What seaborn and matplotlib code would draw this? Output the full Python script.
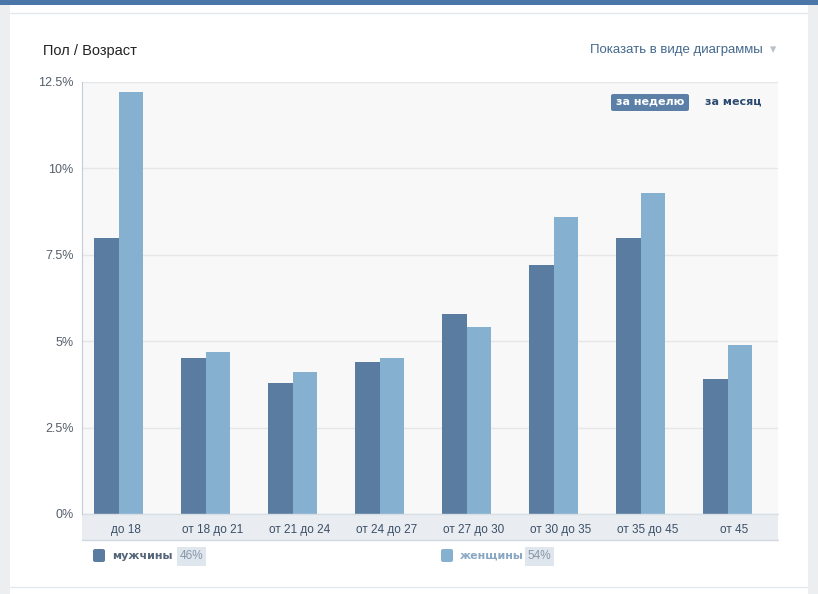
import pandas as pd
import seaborn as sns
import matplotlib.pyplot as plt
import matplotlib.transforms as mtransforms
from matplotlib.patches import Rectangle, FancyBboxPatch

# age groups and shares (%)
ages = ['до 18', 'от 18 до 21', 'от 21 до 24', 'от 24 до 27',
        'от 27 до 30', 'от 30 до 35', 'от 35 до 45', 'от 45']
men = [8.0, 4.5, 3.8, 4.4, 5.8, 7.2, 8.0, 3.9]
women = [12.2, 4.7, 4.1, 4.5, 5.4, 8.6, 9.3, 4.9]
sexes = ['мужчины', 'женщины']
sex_share = ['46%', '54%']
yticks = [0, 2.5, 5, 7.5, 10, 12.5]
ylabels = ['0%', '2.5%', '5%', '7.5%', '10%', '12.5%']

df = pd.DataFrame({
    'age': ages * 2,
    'sex': [sexes[0]] * len(ages) + [sexes[1]] * len(ages),
    'value': men + women,
})

sns.set_style('white')
plt.rcParams['font.family'] = ['Liberation Sans Narrow', 'Liberation Sans', 'DejaVu Sans']

W, H = 818, 594
fig = plt.figure(figsize=(W / 100, H / 100), dpi=100)
fig.patch.set_facecolor('#edeef0')

# white card + top blue strip (kept behind the axes)
fig.patches.append(Rectangle((10 / W, 0), 798 / W, 1, transform=fig.transFigure,
                             facecolor='white', edgecolor='none', zorder=-2))
fig.patches.append(Rectangle((0, 1 - 5 / H), 1, 5 / H, transform=fig.transFigure,
                             facecolor='#4a76a8', edgecolor='none', zorder=-1))
fig.add_artist(plt.Line2D([10 / W, 808 / W], [1 - 13 / H, 1 - 13 / H],
                          color='#e3e8ee', lw=1, zorder=-1))
fig.add_artist(plt.Line2D([10 / W, 808 / W], [7 / H, 7 / H], color='#e3e8ee', lw=1,
                          zorder=-1))

ax = fig.add_axes([82 / W, (H - 514) / H, 696 / W, 432 / H])
ax.set_zorder(1)
ax.set_facecolor('#f8f8f8')
sns.barplot(data=df, x='age', y='value', hue='sex', order=ages, hue_order=sexes,
            palette=['#5a7ca1', '#85b0d0'], width=0.57, saturation=1,
            linewidth=0, legend=False, ax=ax)
ax.set_ylim(0, 12.5)
# bars sit a little left of the category centre in the original
ax.set_xlim(-0.42, len(ages) - 0.42)
ax.set_yticks(yticks)
ax.set_yticklabels(ylabels, color='#555f6b', fontsize=9)
ax.yaxis.grid(True, color='#e4e6e9', lw=1)
ax.set_axisbelow(True)
ax.tick_params(axis='y', length=0, pad=6)
ax.tick_params(axis='x', length=0, pad=7, labelsize=8.5, labelcolor='#3b4f66')
shift = mtransforms.ScaledTranslation(0.07, 0, fig.dpi_scale_trans)
for lbl in ax.get_xticklabels():
    lbl.set_transform(lbl.get_transform() + shift)
ax.set_xlabel('')
ax.set_ylabel('')
for s in ['top', 'right', 'bottom']:
    ax.spines[s].set_visible(False)
ax.spines['left'].set_color('#c3cbd4')

# band behind the category labels
band = Rectangle((0, -26 / 432), 1, 26 / 432, transform=ax.transAxes,
                 facecolor='#e9edf1', edgecolor='none', clip_on=False, zorder=0)
ax.add_patch(band)
ax.plot([0, 1], [-26 / 432, -26 / 432], transform=ax.transAxes, color='#d0d7df',
        lw=1, clip_on=False)
ax.plot([0, 1], [0, 0], transform=ax.transAxes, color='#d8dee5', lw=1, clip_on=False)

# header texts
fig.text(43 / W, 1 - 51 / H, 'Пол / Возраст', fontsize=10.5, color='#222222',
         va='center', ha='left')
fig.text(763 / W, 1 - 50 / H, 'Показать в виде диаграммы', fontsize=9.5,
         color='#45688e', va='center', ha='right')
fig.text(773 / W, 1 - 50 / H, '▾', fontsize=9, color='#b8c0c8', va='center',
         ha='center', family='DejaVu Sans')

# week / month switch
fig.patches.append(FancyBboxPatch((611 / W, 1 - 111 / H), 78 / W, 17 / H,
                                  boxstyle='round,pad=0,rounding_size=0.003',
                                  transform=fig.transFigure, facecolor='#5b7fa7',
                                  edgecolor='none', zorder=3))
fig.text(650 / W, 1 - 102 / H, 'за неделю', fontsize=8, color='white',
         fontweight='bold', ha='center', va='center', zorder=4, family='DejaVu Sans')
fig.text(733 / W, 1 - 102 / H, 'за месяц', fontsize=8, color='#2b4a6f',
         fontweight='bold', ha='center', va='center', zorder=4, family='DejaVu Sans')

# legend
for x0, name, share, col, tcol in [(93, sexes[0], sex_share[0], '#5a7ca1', '#55657a'),
                                   (441, sexes[1], sex_share[1], '#85b0d0', '#8aa8c4')]:
    fig.patches.append(FancyBboxPatch((x0 / W, 1 - 562 / H), 12 / W, 13 / H,
                                      boxstyle='round,pad=0,rounding_size=0.003',
                                      transform=fig.transFigure, facecolor=col,
                                      edgecolor='none', zorder=3))
    fig.text((x0 + 19) / W, 1 - 556 / H, name, fontsize=8, color=tcol,
             fontweight='bold', ha='left', va='center', family='DejaVu Sans')
    bx = x0 + 84
    fig.patches.append(Rectangle((bx / W, 1 - 566 / H), 29 / W, 19 / H,
                                 transform=fig.transFigure, facecolor='#dfe6ee',
                                 edgecolor='none', zorder=3))
    fig.text((bx + 14.5) / W, 1 - 556 / H, share, fontsize=8.5, color='#8796a8',
             ha='center', va='center', zorder=4)

fig.savefig('out.png', dpi=100)
